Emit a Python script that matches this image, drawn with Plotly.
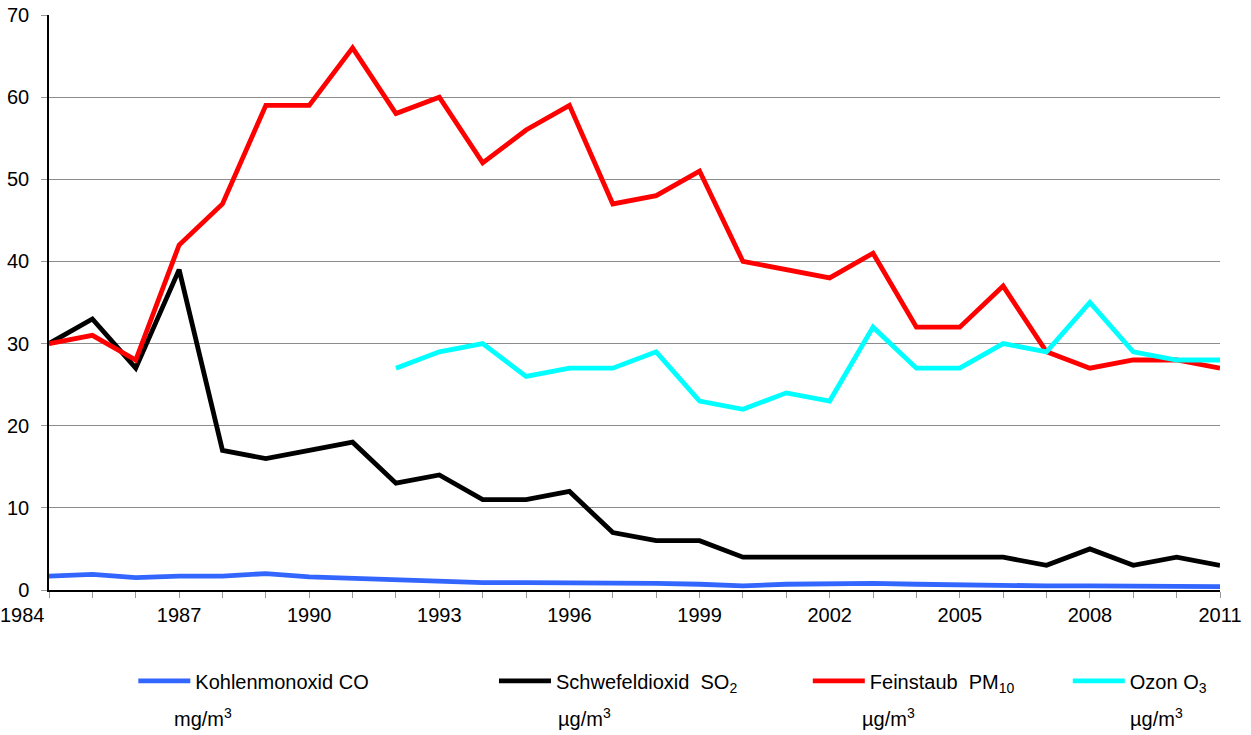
import plotly.graph_objects as go

years = list(range(1984, 2012))
co = [1.7, 1.9, 1.5, 1.7, 1.7, 2.0, 1.6, 1.4, 1.2, 1.1, 0.9, 0.9, 0.9, 0.85, 0.8, 0.7,
      0.5, 0.7, 0.8, 0.8, 0.7, 0.6, 0.6, 0.5, 0.5, 0.5, 0.4, 0.4]
so2 = [30, 33, 27, 39, 17, 16, 17, 18, 13, 14, 11, 11, 12, 7, 6, 6, 4, 4, 4, 4, 4, 4, 4, 3, 5, 3, 4, 3]
pm10 = [30, 31, 28, 42, 47, 59, 59, 66, 58, 60, 52, 56, 59, 47, 48, 51, 40, 39, 38, 41, 32, 32, 37, 29,
        27, 28, 28, 27]
o3_years = list(range(1992, 2012))
o3 = [27, 29, 30, 26, 27, 27, 29, 23, 22, 24, 23, 32, 27, 27, 30, 29, 35, 29, 28, 28]

names = ["Kohlenmonoxid CO", "Schwefeldioxid  SO<sub>2</sub>", "Feinstaub  PM<sub>10</sub>", "Ozon O<sub>3</sub>"]
units = ["mg/m<sup>3</sup>", "µg/m<sup>3</sup>", "µg/m<sup>3</sup>", "µg/m<sup>3</sup>"]
colors = ["#3366FF", "#000000", "#FF0000", "#00FFFF"]

tick_years = list(range(1984, 2012))
# first label drawn separately (shifted left like in the original)
tick_text = [str(y) if ((y - 1984) % 3 == 0 and y != 1984) else "" for y in tick_years]

font_family = "Liberation Sans, Arial, sans-serif"
FS = 20

fig = go.Figure()
series = [(years, co), (years, so2), (years, pm10), (o3_years, o3)]
legend_ids = ["legend", "legend2", "legend3", "legend4"]
for (xs, ys), nm, col, lg in zip(series, names, colors, legend_ids):
    fig.add_trace(go.Scatter(x=xs, y=ys, mode="lines", name=nm, showlegend=True,
                             line=dict(color=col, width=4.8), legend=lg))

legend_x = [0.072, 0.38, 0.648, 0.87]
legend_common = dict(orientation="h", yanchor="middle", y=-0.158, xanchor="left",
                     bgcolor="rgba(0,0,0,0)", itemwidth=52,
                     font=dict(family=font_family, size=FS, color="#000000"))
layout_legends = {}
for lg, lx in zip(legend_ids, legend_x):
    layout_legends[lg] = dict(legend_common, x=lx)

unit_x = [0.1315, 0.457, 0.717, 0.946]
annotations = [dict(text=u, x=ux, y=-0.221, xref="paper", yref="paper", showarrow=False,
                    xanchor="center", yanchor="middle",
                    font=dict(family=font_family, size=FS, color="#000000"))
               for u, ux in zip(units, unit_x)]
annotations.append(dict(text=str(years[0]), x=years[0], y=0, xref="x", yref="paper",
                        showarrow=False, xanchor="right", yanchor="top", xshift=-2, yshift=-12,
                        font=dict(family=font_family, size=FS, color="#000000")))

fig.update_layout(
    width=1251, height=735,
    margin=dict(l=49, r=31, t=15, b=145, autoexpand=False),
    plot_bgcolor="white", paper_bgcolor="white",
    showlegend=True,
    font=dict(family=font_family, size=FS, color="#000000"),
    annotations=annotations,
    **layout_legends,
)
fig.update_xaxes(range=[1984, 2011], tickmode="array", tickvals=tick_years, ticktext=tick_text,
                 ticks="outside", ticklen=6, tickcolor="#999999", tickwidth=1,
                 showline=True, linecolor="#000000", linewidth=1.5, automargin=False,
                 ticklabeloverflow="allow",
                 showgrid=False, zeroline=False, tickfont=dict(size=FS))
fig.update_yaxes(range=[0, 70], dtick=10, ticks="outside", ticklen=6, tickcolor="#999999",
                 showline=True, linecolor="#000000", linewidth=1.5, automargin=False,
                 ticklabelstandoff=8, ticklabeloverflow="allow",
                 showgrid=True, gridcolor="#8c8c8c", gridwidth=1, zeroline=False,
                 tickfont=dict(size=FS))

fig.write_html("out.html", config={"displayModeBar": False},
               post_script="document.body.style.margin='0';")
